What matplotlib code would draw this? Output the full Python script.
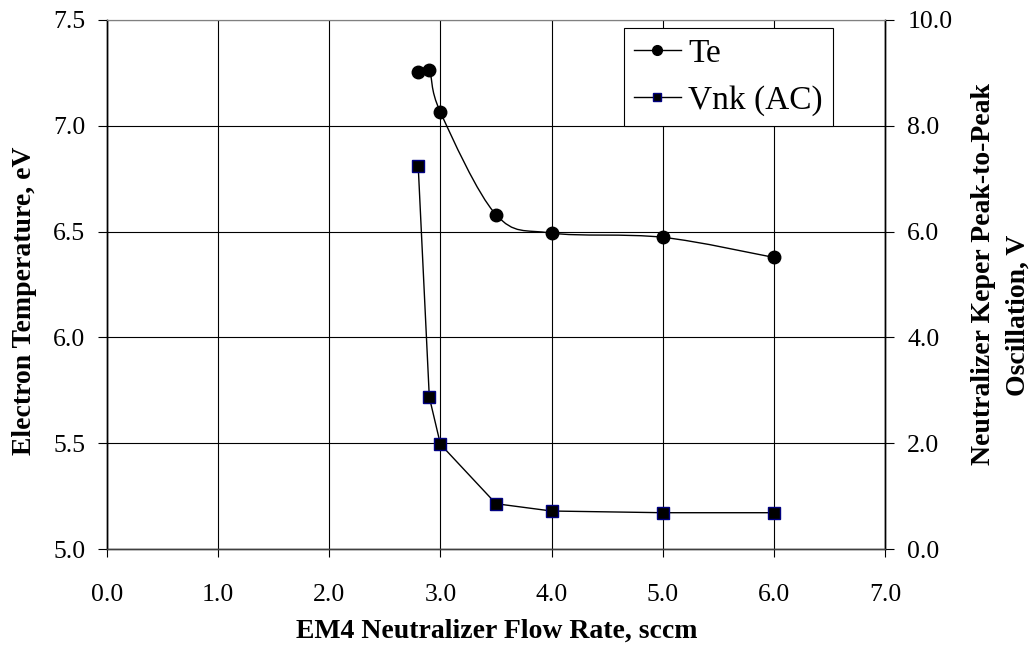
import numpy as np
import matplotlib
matplotlib.use("Agg")
import matplotlib.pyplot as plt
from matplotlib.path import Path
from matplotlib.patches import PathPatch
from matplotlib.lines import Line2D

# ---- data ----
flow_te = [2.8, 2.9, 3.0, 3.5, 4.0, 5.0, 6.0]
te_values = [7.256, 7.262, 7.064, 6.580, 6.493, 6.473, 6.378]
flow_vnk = [2.8, 2.9, 3.0, 3.5, 4.0, 5.0, 6.0]
vnk_values = [7.24, 2.87, 1.98, 0.856, 0.718, 0.686, 0.686]
x_ticks = [0, 1, 2, 3, 4, 5, 6, 7]
left_ticks = [5.0, 5.5, 6.0, 6.5, 7.0, 7.5]
right_ticks = [0, 2, 4, 6, 8, 10]
series_labels = ["Te", "Vnk (AC)"]

plt.rcParams['font.family'] = ['Liberation Serif', 'DejaVu Serif']

W, H = 1036, 655
fig = plt.figure(figsize=(W / 100, H / 100), dpi=100)
ax = fig.add_axes([107 / W, 1 - 549 / H, (885 - 107) / W, (549 - 20) / H])
ax2 = ax.twinx()


def smooth_path(x, y):
    pts = np.column_stack([x, y]).astype(float)
    n = len(pts)
    verts = [pts[0]]
    codes = [Path.MOVETO]
    for i in range(n - 1):
        p0 = pts[i - 1] if i > 0 else pts[i]
        p1 = pts[i]
        p2 = pts[i + 1]
        p3 = pts[i + 2] if i + 2 < n else pts[i + 1]
        c1 = p1 + (p2 - p0) / 6.0
        c2 = p2 - (p3 - p1) / 6.0
        verts += [c1, c2, p2]
        codes += [Path.CURVE4] * 3
    return Path(verts, codes)


ax.set_xlim(0, 7)
ax.set_ylim(5.0, 7.5)
ax2.set_ylim(0, 10)

ax.add_patch(PathPatch(smooth_path(flow_te, te_values), facecolor='none',
                       edgecolor='black', lw=1.0, zorder=3))
ax.plot(flow_te, te_values, linestyle='none', marker='o', markersize=9,
        markerfacecolor='black', markeredgecolor='black', zorder=4)

ax2.plot(flow_vnk, vnk_values, color='black', lw=1.0, marker='s', markersize=8,
         markerfacecolor='black', markeredgecolor='#000080', markeredgewidth=1.0,
         zorder=4)

ax.set_xticks(x_ticks)
ax.set_xticklabels([f"{v:.1f}" for v in x_ticks])
ax.set_yticks(left_ticks)
ax.set_yticklabels([f"{v:.1f}" for v in left_ticks])
ax2.set_yticks(right_ticks)
ax2.set_yticklabels([f"{v:.1f}" for v in right_ticks])

ax.grid(True, color='black', lw=0.8)
ax.set_axisbelow(True)

ax.tick_params(axis='x', direction='out', length=6, width=0.8, pad=19,
               labelsize=18.5, colors='black')
ax.tick_params(axis='y', direction='out', length=6.5, width=0.8, pad=9,
               labelsize=18.5)
ax2.tick_params(axis='y', direction='out', length=6.5, width=0.8, pad=9.5,
                labelsize=18.5)

for a in (ax, ax2):
    a.spines['top'].set_color('#808080')
    a.spines['top'].set_linewidth(0.8)
    a.spines['bottom'].set_color('#404040')
    a.spines['bottom'].set_linewidth(1.0)
    a.spines['left'].set_linewidth(1.0)
    a.spines['right'].set_linewidth(1.0)

fig.text(497 / W, 1 - 631 / H, "EM4 Neutralizer Flow Rate, sccm",
         ha='center', va='center', fontsize=20, fontweight='bold')
fig.text(25 / W, 1 - 301 / H, "Electron Temperature, eV", rotation=90,
         ha='center', va='center', fontsize=20, fontweight='bold')
fig.text(984 / W, 1 - 274 / H, "Neutralizer Keper Peak-to-Peak", rotation=90,
         ha='center', va='center', fontsize=20, fontweight='bold')
fig.text(1018 / W, 1 - 315 / H, "Oscillation, V", rotation=90,
         ha='center', va='center', fontsize=20, fontweight='bold')

handles = [
    Line2D([], [], color='black', lw=1.0, marker='o', markersize=7,
           markerfacecolor='black', markeredgecolor='black'),
    Line2D([], [], color='black', lw=1.0, marker='s', markersize=6,
           markerfacecolor='black', markeredgecolor='#000080'),
]
leg = ax2.legend(handles, series_labels, loc='upper left',
                 bbox_to_anchor=(624 / W, 1 - 28 / H), bbox_transform=fig.transFigure,
                 fontsize=24, frameon=True, fancybox=False, shadow=False,
                 borderpad=0.3, handlelength=1.4, handletextpad=0.22,
                 labelspacing=0.5, borderaxespad=0)
leg.get_frame().set_edgecolor('black')
leg.get_frame().set_linewidth(0.8)
leg.get_frame().set_facecolor('white')
leg.get_frame().set_alpha(1)

fig.savefig("out.png", dpi=100)
